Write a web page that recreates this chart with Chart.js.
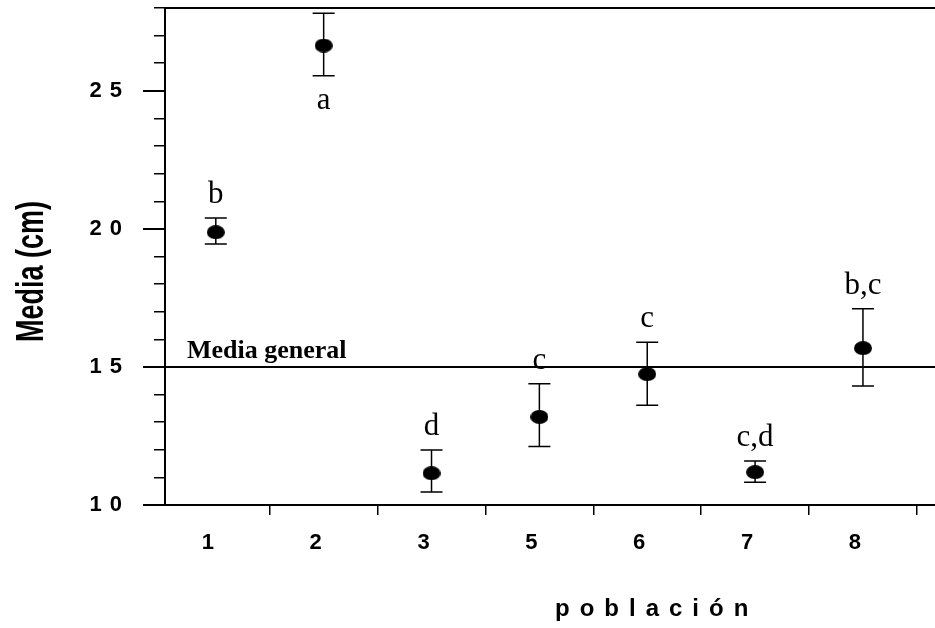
<!DOCTYPE html>
<html><head><meta charset="utf-8">
<script src="https://cdn.jsdelivr.net/npm/chart.js@4"></script>
<style>html,body{margin:0;padding:0;background:#fff}#wrap{width:935px;height:628px}</style>
</head><body><div id="wrap"><canvas id="c"></canvas></div>
<script>
// ---- data ----
const categories = ['1', '2', '3', '5', '6', '7', '8'];
const means = [19.88, 26.64, 11.15, 13.19, 14.74, 11.19, 15.68];
const upper = [20.39, 27.81, 11.99, 14.39, 15.89, 11.59, 17.11];
const lower = [19.45, 25.55, 10.47, 12.12, 13.61, 10.82, 14.31];
const groups = ['b', 'a', 'd', 'c', 'c', 'c,d', 'b,c'];
const groupSide = ['above', 'below', 'above', 'above', 'above', 'above', 'above'];
const grandMean = 15;
const grandMeanLabel = 'Media general';
const yMajorTicks = [10, 15, 20, 25];
const yMin = 10, yMax = 28;
const xMin = -0.471, xMax = 6.668;
const xTitle = 'población';
const yTitle = 'Media (cm)';

// ---- marker ----
const dot = document.createElement('canvas');
dot.width = 18; dot.height = 14;
const dctx = dot.getContext('2d');
dctx.fillStyle = '#000';
dctx.beginPath(); dctx.ellipse(9, 7, 9, 7, 0, 0, Math.PI * 2); dctx.fill();

const spacing = {
  id: 'spacing',
  beforeDraw(chart) { chart.ctx.letterSpacing = '8px'; },
  beforeDatasetsDraw(chart) { chart.ctx.letterSpacing = '0px'; }
};

const zeroPad = s => { s.paddingTop = 0; s.paddingBottom = 0; s.paddingLeft = 0; s.paddingRight = 0; };

const annot = {
  id: 'annot',
  beforeDatasetsDraw(chart) {
    const {ctx, chartArea: a, scales: {x, y}} = chart;
    ctx.save();
    ctx.strokeStyle = '#000';
    ctx.lineWidth = 2;
    const gy = y.getPixelForValue(grandMean);
    ctx.beginPath(); ctx.moveTo(a.left, gy); ctx.lineTo(a.right, gy); ctx.stroke();
    ctx.lineWidth = 1.5;
    means.forEach((m, i) => {
      const px = x.getPixelForValue(i);
      const t = y.getPixelForValue(upper[i]);
      const b = y.getPixelForValue(lower[i]);
      ctx.beginPath();
      ctx.moveTo(px, t); ctx.lineTo(px, b);
      ctx.moveTo(px - 11, t); ctx.lineTo(px + 11, t);
      ctx.moveTo(px - 11, b); ctx.lineTo(px + 11, b);
      ctx.stroke();
    });
    ctx.restore();
  },
  afterDraw(chart) {
    const {ctx, chartArea: a, scales: {x, y}} = chart;
    ctx.save();
    ctx.letterSpacing = '0px';
    // top frame line
    ctx.strokeStyle = '#000';
    ctx.lineWidth = 2;
    ctx.beginPath(); ctx.moveTo(a.left, a.top); ctx.lineTo(a.right, a.top); ctx.stroke();
    ctx.fillStyle = '#000';
    // grand mean label
    const gy = y.getPixelForValue(grandMean);
    ctx.font = 'bold 26px "Liberation Serif"';
    ctx.textAlign = 'left'; ctx.textBaseline = 'alphabetic';
    ctx.fillText(grandMeanLabel, a.left + 22, gy - 9);
    // group letters
    ctx.font = '31px "Liberation Serif"';
    ctx.textAlign = 'center';
    groups.forEach((g, i) => {
      const px = x.getPixelForValue(i);
      if (groupSide[i] === 'below') {
        ctx.fillText(g, px, y.getPixelForValue(lower[i]) + 33);
      } else {
        ctx.fillText(g, px, y.getPixelForValue(upper[i]) - 15);
      }
    });
    // x title
    ctx.font = 'bold 24px "Liberation Sans"';
    ctx.letterSpacing = '10px';
    ctx.textAlign = 'left';
    ctx.fillText(xTitle, a.left + 390, 616);
    // y title (condensed)
    ctx.letterSpacing = '0px';
    ctx.font = 'bold 38px "Liberation Sans"';
    ctx.translate(43, (a.top + a.bottom) / 2 + 15);
    ctx.rotate(-Math.PI / 2);
    ctx.scale(0.71, 1);
    ctx.textAlign = 'center';
    ctx.fillText(yTitle, 0, 0);
    ctx.restore();
  }
};

const tickFont = {family: 'Liberation Sans', size: 22, weight: 'bold'};

new Chart(document.getElementById('c'), {
  type: 'scatter',
  data: {
    datasets: [{
      data: means.map((m, i) => ({x: i, y: m})),
      xAxisID: 'x', yAxisID: 'y',
      pointStyle: dot, pointRadius: 9, pointHoverRadius: 9,
      showLine: false
    }]
  },
  options: {
    responsive: true, maintainAspectRatio: false, animation: false,
    layout: {autoPadding: false, padding: {top: 8, left: 0, right: 0, bottom: 0}},
    plugins: {legend: {display: false}, tooltip: {enabled: false}},
    scales: {
      x: {
        type: 'linear', position: 'bottom', min: xMin, max: xMax,
        afterBuildTicks: s => { s.ticks = categories.map((c, i) => ({value: i})); },
        afterFit: s => { s.height = 123; zeroPad(s); },
        ticks: {callback: v => categories[v], autoSkip: false, maxRotation: 0, padding: 15, labelOffset: -4, color: '#000', font: tickFont},
        grid: {drawOnChartArea: false, drawTicks: true, tickLength: 10, color: 'rgba(0,0,0,0)'},
        border: {display: true, color: '#000', width: 2}
      },
      xb: {
        type: 'linear', axis: 'x', position: {y: yMin}, min: xMin, max: xMax,
        afterBuildTicks: s => { s.ticks = categories.map((c, i) => ({value: i + 0.5})); },
        afterFit: zeroPad,
        ticks: {display: false},
        grid: {drawOnChartArea: false, drawTicks: true, tickLength: 10, color: '#000', lineWidth: 1.5},
        border: {display: false}
      },
      y: {
        type: 'linear', position: 'left', min: yMin, max: yMax,
        afterBuildTicks: s => { s.ticks = yMajorTicks.map(v => ({value: v})); },
        afterFit: s => { s.width = 165; zeroPad(s); },
        ticks: {padding: 13, color: '#000', font: tickFont},
        grid: {drawOnChartArea: false, tickLength: 22, color: '#000', lineWidth: 2},
        border: {display: true, color: '#000', width: 2}
      },
      ym: {
        type: 'linear', axis: 'y', position: {x: xMin}, min: yMin, max: yMax,
        afterFit: zeroPad,
        ticks: {display: false, stepSize: 1},
        grid: {drawOnChartArea: false, drawTicks: true, tickLength: 11, color: '#000', lineWidth: 1.5},
        border: {display: false}
      }
    }
  },
  plugins: [spacing, annot]
});
</script>
</body></html>
